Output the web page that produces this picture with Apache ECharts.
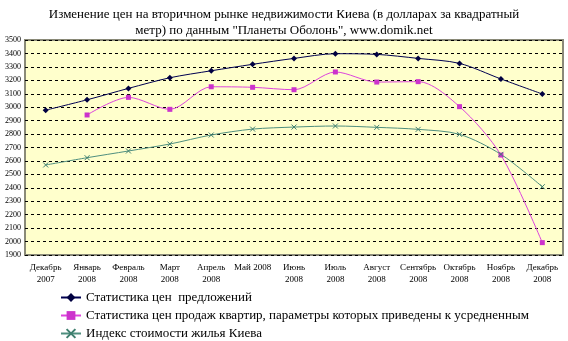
<!DOCTYPE html>
<html><head><meta charset="utf-8">
<script src="https://cdn.jsdelivr.net/npm/echarts@6/dist/echarts.min.js"></script>
<style>html,body{margin:0;padding:0;background:#fff}#c{width:568px;height:341px}</style>
</head><body><div id="c"></div>
<script>
var categories = ["Декабрь\n2007","Январь\n2008","Февраль\n2008","Март\n2008","Апрель\n2008","Май 2008","Июнь\n2008","Июль\n2008","Август\n2008","Сентябрь\n2008","Октябрь\n2008","Ноябрь\n2008","Декабрь\n2008"];
var offerPrices = [2978, 3055, 3140, 3219, 3271, 3319, 3363, 3398, 3393, 3363, 3326, 3210, 3098];
var salePrices = [null, 2942, 3073, 2984, 3152, 3148, 3130, 3262, 3187, 3190, 3004, 2644, 1992];
var kievIndex = [2570, 2624, 2674, 2726, 2793, 2837, 2852, 2860, 2850, 2835, 2798, 2649, 2408];
var seriesNames = ["Статистика цен  предложений", "Статистика цен продаж квартир, параметры которых приведены к усредненным", "Индекс стоимости жилья Киева"];
var titleText = "Изменение цен на вторичном рынке недвижимости Киева (в долларах за квадратный\nметр) по данным \"Планеты Оболонь\", www.domik.net";

var serif = "'Liberation Serif', 'DejaVu Serif', serif";
var xPath = 'path://M0,0 L10,10 M10,0 L0,10';
var legendTops = [291, 309, 327];
var chart = echarts.init(document.getElementById('c'));
chart.setOption({
  backgroundColor: '#fff',
  animation: false,
  title: {
    text: titleText, left: 'center', top: 2,
    textStyle: {fontFamily: serif, fontSize: 13, fontWeight: 'normal', color: '#000', lineHeight: 16}
  },
  grid: {
    left: 25, right: 5, top: 40, bottom: 86, show: true,
    backgroundColor: '#FFFFCC', borderColor: '#8a8a78', borderWidth: 2
  },
  legend: seriesNames.map(function (n, i) {
    return {
      left: 60, top: legendTops[i], itemWidth: 20, itemHeight: 11, padding: 0,
      textStyle: {fontFamily: serif, fontSize: 13, color: '#000'},
      data: [n]
    };
  }),
  xAxis: {
    type: 'category', data: categories, boundaryGap: true,
    axisLine: {show: false}, axisTick: {show: false},
    axisLabel: {interval: 0, fontFamily: serif, fontSize: 9, color: '#000', lineHeight: 12, margin: 7}
  },
  yAxis: {
    type: 'value', min: 1900, max: 3500, interval: 100,
    axisLine: {show: false}, axisTick: {show: false},
    axisLabel: {fontFamily: serif, fontSize: 8, color: '#000', margin: 4, formatter: function (v) { return String(v); }},
    splitLine: {lineStyle: {color: '#000', type: [3, 3], width: 1}}
  },
  series: [
    {name: seriesNames[0], type: 'line', data: offerPrices, smooth: 0.3,
     symbol: 'diamond', symbolSize: 6, showAllSymbol: true,
     itemStyle: {color: '#000040'}, lineStyle: {color: '#000050', width: 1}},
    {name: seriesNames[1], type: 'line', data: salePrices, smooth: 0.3,
     symbol: 'rect', symbolSize: 5, showAllSymbol: true,
     itemStyle: {color: '#cc33cc'}, lineStyle: {color: '#dd44dd', width: 1}},
    {name: seriesNames[2], type: 'line', data: kievIndex, smooth: 0.3,
     symbol: xPath, symbolSize: 5, showAllSymbol: true,
     itemStyle: {color: '#fff', borderColor: '#3f7f6f', borderWidth: 1}, lineStyle: {color: '#4f8f7f', width: 1}}
  ]
});
</script></body></html>
